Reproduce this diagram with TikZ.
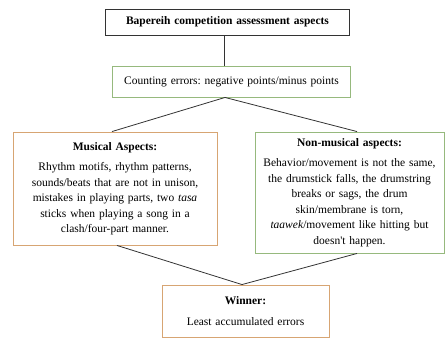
\documentclass[tikz,border=0pt]{standalone}
\usepackage{fontspec}
\setmainfont{Liberation Serif}
\usetikzlibrary{calc,positioning}

\definecolor{boxgreen}{RGB}{150,185,125}
\definecolor{boxtan}{RGB}{215,165,115}

\tikzset{
  aspect/.style={draw,line width=0.9pt,align=center,inner sep=2pt,
    font=\fontsize{11.5}{15.5}\selectfont\frenchspacing},
  headbox/.style={aspect,draw=black!80,text width=240pt,minimum height=26pt},
  greenbox/.style={aspect,draw=boxgreen},
  tanbox/.style={aspect,draw=boxtan},
  link/.style={draw=black!80,line width=0.8pt}
}

\begin{document}
\begin{tikzpicture}[x=1pt,y=-1pt]

\useasboundingbox (0,0) rectangle (447,338);

\node[headbox] (head) at (227.5,22) {\textbf{Bapereih competition assessment aspects}};
\node[greenbox,text width=234pt,minimum height=31pt] (count) at (231.5,81.5)
  {Counting errors: negative points/minus points};
\node[tanbox,text width=200pt,minimum height=113pt] (music) at (115,188.5)
  {\textbf{Musical Aspects:}\\[5pt]
   Rhythm motifs, rhythm patterns,\\
   sounds/beats that are not in unison,\\
   mistakes in playing parts, two \textit{tasa}\\
   sticks when playing a song in a\\
   clash/four-part manner.};
\node[greenbox,text width=185pt,minimum height=121pt] (nonmusic) at (349.5,192.5)
  {\textbf{Non-musical aspects:}\\[5pt]
   Behavior/movement is not the same,\\
   the drumstick falls, the drumstring\\
   breaks or sags, the drum\\
   skin/membrane is torn,\\
   \textit{taawek}/movement like hitting but\\
   doesn\textquotesingle t happen.};
\node[tanbox,text width=163pt,minimum height=52pt] (winner) at (245.5,311)
  {\textbf{Winner:}\\[5pt]
   Least accumulated errors};

% connectors
\draw[link] ([xshift=-3.5pt]head.south) -- ([xshift=-3.5pt]head.south |- count.north);
\draw[link] ([xshift=-3pt]music.north) -- ([xshift=-6.5pt]count.south)
  -- ([xshift=7.5pt]nonmusic.north);
\draw[link] ([xshift=2pt]music.south) -- ([xshift=-3.5pt]winner.north)
  -- ([xshift=7.5pt]nonmusic.south);

\end{tikzpicture}
\end{document}
